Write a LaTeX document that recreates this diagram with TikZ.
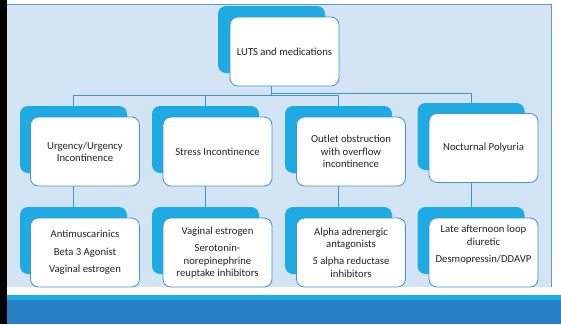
\documentclass[tikz,border=0pt]{standalone}
\usepackage{fontspec}
\setmainfont{Carlito}
\usetikzlibrary{calc}
\definecolor{panelblue}{RGB}{211,229,244}
\definecolor{panelline}{RGB}{95,155,200}
\definecolor{boxcyan}{RGB}{30,170,226}
\definecolor{edgeblue}{RGB}{66,146,204}
\definecolor{bandblue}{RGB}{40,128,196}
\definecolor{txtgray}{RGB}{35,35,35}

\begin{document}
\begin{tikzpicture}[x=1pt,y=-1pt,font=\fontsize{10.7}{12.3}\selectfont,
    back/.style={fill=boxcyan,rounded corners=8pt,minimum width=107pt,minimum height=67pt,inner sep=0pt},
    front/.style={fill=white,draw=edgeblue,line width=0.8pt,rounded corners=8pt,minimum width=109pt,minimum height=69pt,inner sep=2pt,align=center,text=txtgray},
    link/.style={draw=edgeblue,line width=0.8pt}]
                \useasboundingbox (0,0) rectangle (561,324);
                % slide background
                \fill[black](0,0) rectangle (7,324);
                \fill[panelblue](7,4.5) rectangle (551,287);
                \draw[panelline,line width=0.8pt](7,4.5)--(551,4.5)--(551,287);
                \fill[boxcyan](7,295) rectangle (561,300);
                \fill[bandblue](7,300) rectangle (561,324);
                % top
                \node[back] (rootb) at (271.5,39.5) {};
                \node[front] (root) at (284.5,51.5) {LUTS and medications};
                % conditions
                \node[back] (urgb) at (73.5,139.5) {};
                \node[front] (urg) at (85,151.5) {Urgency/Urgency\\Incontinence};
                \node[back] (strb) at (205.5,139.5) {};
                \node[front] (str) at (217.5,151.5) {Stress Incontinence};
                \node[back] (outb) at (338.5,139.5) {};
                \node[front] (out) at (351,151.5) {Outlet obstruction\\with overflow\\incontinence};
                \node[back] (nocb) at (471,136.5) {};
                \node[front] (noc) at (483.5,148) {Nocturnal Polyuria};
                % medications
                \node[back] (urgmb) at (73.5,240.5) {};
                \node[front] (urgm) at (85,252.5) {Antimuscarinics\\[5pt]Beta 3 Agonist\\[5pt]Vaginal estrogen};
                \node[back] (strmb) at (205.5,240.5) {};
                \node[front] (strm) at (217.5,252.5) {Vaginal estrogen\\[5pt]Serotonin-\\norepinephrine\\reuptake inhibitors};
                \node[back] (outmb) at (338.5,240.5) {};
                \node[front] (outm) at (351,252.5) {Alpha adrenergic\\antagonists\\[5pt]5 alpha reductase\\inhibitors};
                \node[back] (nocmb) at (471,240.5) {};
                \node[front] (nocm) at (483.5,252.5) {Late afternoon loop\\diuretic\\[5pt]Desmopressin/DDAVP\\[5pt]~};
                % connectors
                \draw[link](root.south -| rootb.south)--++(0,9)-|(urgb.north);
                \draw[link](root.south -| rootb.south)--++(0,9)-|(strb.north);
                \draw[link](root.south -| rootb.south)--++(0,9)-|(outb.north);
                \draw[link](root.south -| rootb.south)--++(0,6.7)-|(nocb.north);
                \draw[link](urg.south -| urgb.south)--(urgmb.north);
                \draw[link](str.south -| strb.south)--(strmb.north);
                \draw[link](out.south -| outb.south)--(outmb.north);
                \draw[link](noc.south -| nocb.south)--(nocmb.north);
\end{tikzpicture}
\end{document}
